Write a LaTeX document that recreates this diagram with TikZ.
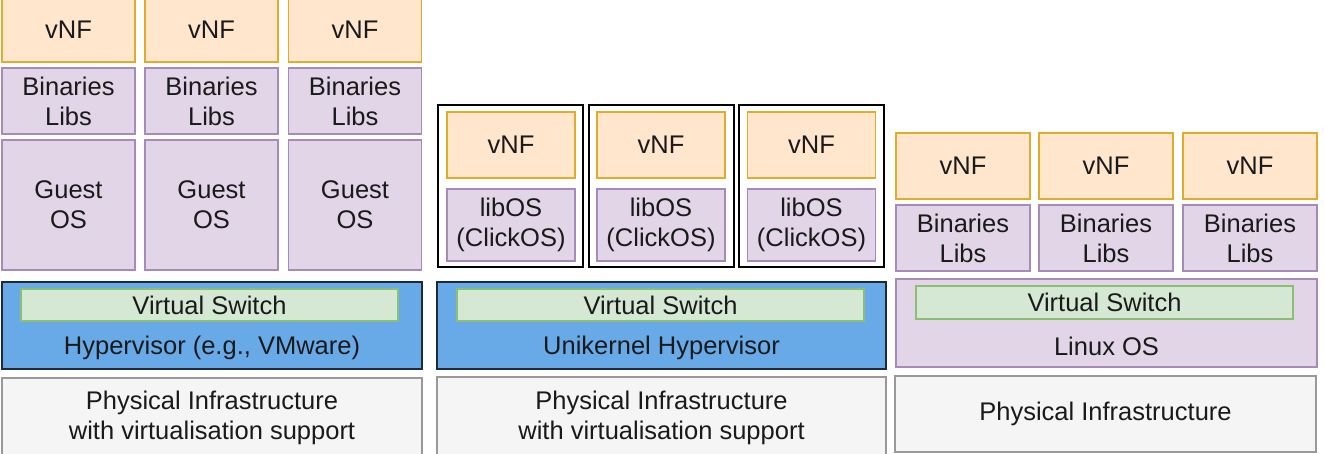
\documentclass[tikz,border=0pt]{standalone}
\usepackage{fontspec}
\setmainfont{Liberation Sans}
\definecolor{vnffill}{HTML}{FFE6CC}
\definecolor{vnfdraw}{HTML}{E0AC2A}
\definecolor{purfill}{HTML}{E1D5E7}
\definecolor{purdraw}{HTML}{A68BB8}
\definecolor{bluefill}{HTML}{68AAE8}
\definecolor{bluedraw}{HTML}{1E2A38}
\definecolor{grnfill}{HTML}{D5E8D4}
\definecolor{grndraw}{HTML}{8BC074}
\definecolor{phyfill}{HTML}{F5F5F5}
\definecolor{phydraw}{HTML}{999999}
\definecolor{txt}{HTML}{1A1A1A}
\tikzset{
  base/.style={rectangle, inner sep=0pt, align=center, text=txt,
    font=\fontsize{25.5}{30}\selectfont},
  vnfbox/.style={base, fill=vnffill, draw=vnfdraw, line width=1.5pt},
  purbox/.style={base, fill=purfill, draw=purdraw, line width=1.5pt},
  hypbox/.style={base, fill=bluefill, draw=bluedraw, line width=1.8pt},
  swbox/.style={base, fill=grnfill, draw=grndraw, line width=1.3pt},
  phybox/.style={base, fill=phyfill, draw=phydraw, line width=1.8pt},
  ukbox/.style={base, draw=black, line width=1.8pt, fill=white},
  lbl/.style={base}
}
\begin{document}
\begin{tikzpicture}[x=1pt,y=-1pt]
\useasboundingbox (0,0) rectangle (1324,453);
\clip (0,0) rectangle (1324,453);
\fill[white] (0,0) rectangle (1324,453);
% ---- Left stack: hypervisor based VMs
\foreach \i/\cx in {1/68.5,2/211.5,3/355}{
  \node[vnfbox, minimum width=133pt, minimum height=64pt] (lv\i) at (\cx,30) {vNF};
  \node[purbox, minimum width=133pt, minimum height=66pt] (lb\i) at (\cx,101) {Binaries\\Libs};
  \node[purbox, minimum width=133pt, minimum height=130pt] (lg\i) at (\cx,205) {Guest\\OS};
}
\node[hypbox, minimum width=420pt, minimum height=87pt] (lhyp) at (212,325.5) {};
\node[swbox, minimum width=377pt, minimum height=32pt] (lsw) at (209.5,305) {Virtual Switch};
\node[lbl] (lhyptxt) at (212,348) {Hypervisor (e.g., VMware)};
\node[phybox, minimum width=420pt, minimum height=84pt] (lphy) at (212,420) {};
\node[lbl] (lphytxt) at (212,418) {Physical Infrastructure\\with virtualisation support};
% ---- Middle stack: unikernels
\foreach \i/\ox/\ix in {1/510.5/511,2/661.5/661,3/811.5/811.5}{
  \node[ukbox, minimum width=145pt, minimum height=162pt] (mu\i) at (\ox,186) {};
  \node[vnfbox, minimum width=128pt, minimum height=66pt] (mv\i) at (\ix,145) {vNF};
  \node[purbox, minimum width=128pt, minimum height=72pt] (ml\i) at (\ix,225) {libOS\\(ClickOS)};
}
\node[hypbox, minimum width=449pt, minimum height=87pt] (mhyp) at (661.5,325.5) {};
\node[swbox, minimum width=407pt, minimum height=32pt] (msw) at (660.5,305) {Virtual Switch};
\node[lbl] (mhyptxt) at (661.5,348) {Unikernel Hypervisor};
\node[phybox, minimum width=449pt, minimum height=85pt] (mphy) at (661.5,419.5) {};
\node[lbl] (mphytxt) at (661.5,418) {Physical Infrastructure\\with virtualisation support};
% ---- Right stack: containers
\foreach \i/\cx in {1/963,2/1106,3/1250}{
  \node[vnfbox, minimum width=134pt, minimum height=66pt] (rv\i) at (\cx,166) {vNF};
  \node[purbox, minimum width=134pt, minimum height=66pt] (rb\i) at (\cx,238) {Binaries\\Libs};
}
\node[purbox, minimum width=421pt, minimum height=88pt] (ros) at (1106.5,323) {};
\node[swbox, minimum width=377pt, minimum height=33pt] (rsw) at (1104.5,302.5) {Virtual Switch};
\node[lbl] (rostxt) at (1106.5,346) {Linux OS};
\node[phybox, minimum width=421pt, minimum height=76pt] (rphy) at (1105.5,414) {Physical Infrastructure};
\end{tikzpicture}
\end{document}
